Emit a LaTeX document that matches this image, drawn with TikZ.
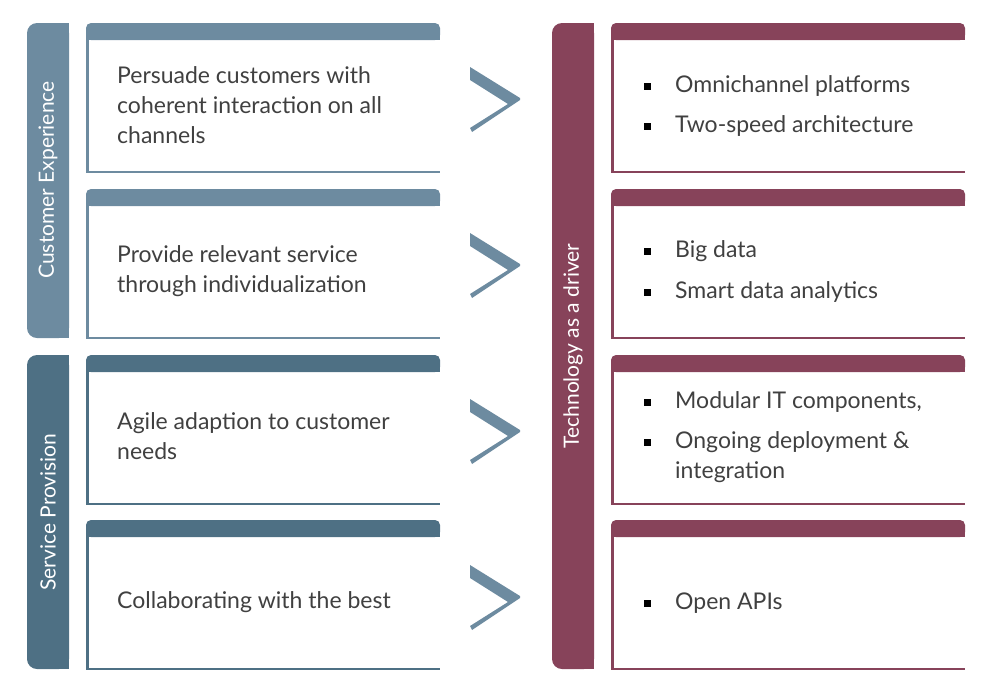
\documentclass[tikz,border=0pt]{standalone}
\usepackage{fontspec}
\setmainfont{Lato}
\definecolor{slateA}{HTML}{6D8BA0}
\definecolor{slateB}{HTML}{4E7084}
\definecolor{wine}{HTML}{87435A}
\definecolor{txtgray}{HTML}{404040}

\tikzset{
  sidebar/.style={fill=#1, rounded corners=10pt},
  boxline/.style={draw=#1, line width=2.5pt},
  boxtext/.style={anchor=west, align=left, inner sep=0pt, text=txtgray, font=\fontsize{23}{30}\selectfont},
  bartext/.style={rotate=90, text=white, font=\fontsize{21}{26}\selectfont},
  chev/.style={fill=slateA},
  bulletsq/.style={fill=black, minimum size=7pt, inner sep=0pt},
}

\begin{document}
\begin{tikzpicture}[x=1pt,y=-1pt]
\useasboundingbox (0,0) rectangle (1000,694);

% side bars
\fill[sidebar=slateA] (27,23) rectangle (69,338);
\fill[slateA] (50,23) rectangle (69,338);
\fill[sidebar=slateB] (27,355) rectangle (69,669);
\fill[slateB] (50,355) rectangle (69,669);
\fill[sidebar=wine] (552,23) rectangle (594,669);
\fill[wine] (575,23) rectangle (594,669);

\node[bartext] (cx) at (48,180) {Customer Experience};
\node[bartext] (sp) at (48,512) {Service Provision};
\node[bartext] (tech) at (573,346) {Technology as a driver};

% boxes
\foreach \y/\c in {23/slateA,189/slateA,355/slateB,520/slateB}{
  \fill[fill=\c, rounded corners=5pt] (86,\y) rectangle (440,\y+17);
  \fill[\c] (86,\y+7) rectangle (440,\y+17);
  \draw[boxline=\c] (87.25,\y+17) -- (87.25,\y+149) -- (440,\y+149);
  \fill[fill=wine, rounded corners=5pt] (611,\y) rectangle (965,\y+17);
  \fill[wine] (611,\y+7) rectangle (965,\y+17);
  \draw[boxline=wine] (612.25,\y+17) -- (612.25,\y+149) -- (965,\y+149);
}

% chevrons
\foreach \m in {98,264,430,596}{
  \fill[chev] (470,\m-31) -- (520,\m) -- (520,\m+2) -- (472,\m+34) -- (470,\m+30)
    -- (508,\m+6) -- (470,\m-18) -- cycle;
}

\node[boxtext] (pers) at (117,105) {Persuade customers with\\coherent interaction on all\\channels};
\node[boxtext] (prov) at (117,271) {Provide relevant service\\through individualization};
\node[boxtext] (agile) at (117,436) {Agile adaption to customer\\needs};
\node[boxtext] (collab) at (117,602) {Collaborating with the best};

\foreach \b in {86,126,251,292,402,442,603}
  \node[bulletsq] at (647,\b) {};

\node[boxtext] (omni) at (675,86) {Omnichannel platforms};
\node[boxtext] (twosp) at (675,126) {Two-speed architecture};
\node[boxtext] (bigd) at (675,251) {Big data};
\node[boxtext] (smart) at (675,292) {Smart data analytics};
\node[boxtext] (modit) at (675,402) {Modular IT components,};
\node[boxtext] (ongo) at (675,457) {Ongoing deployment \&\\integration};
\node[boxtext] (apis) at (675,603) {Open APIs};

\end{tikzpicture}
\end{document}
